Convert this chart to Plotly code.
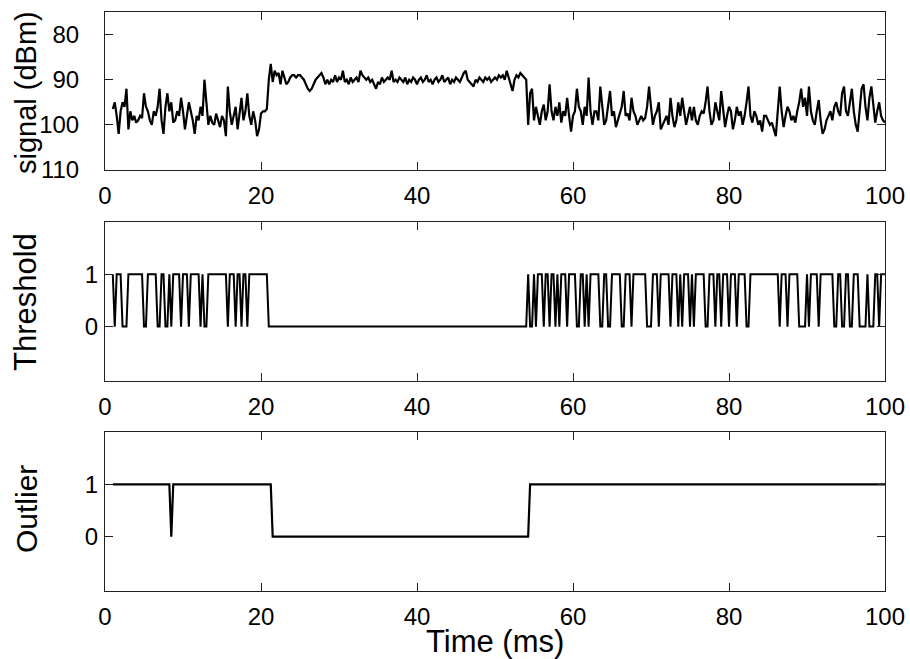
import plotly.graph_objects as go
from plotly.subplots import make_subplots

# ---------------- data ----------------
time_start = 1.0      # ms, first sample
time_step = 0.25      # ms between samples

signal_dbm = [
    # 1.00 - 10.75
    96.5, 95, 98, 102, 97, 95, 96, 92, 101, 97, 99, 98, 99.5, 99, 98, 98.5, 93, 96, 97, 99,
    100, 97, 98, 96, 92, 99, 102, 96, 93, 97, 95, 99.5, 99, 97, 98, 94, 97, 101, 98, 95,
    # 11.00 - 20.75
    97, 99, 102, 98, 99, 96, 98, 90, 95, 100, 98, 99.5, 100, 97.5, 99, 100.5, 98, 99, 102.5, 91.5,
    97, 100, 98, 96, 101, 97, 94, 99, 97, 93, 98, 100, 97, 99, 102.5, 101, 97.5, 97, 97, 96.5,
    # 21.00 - 30.75
    90, 86.5, 90.5, 88, 89, 88.5, 91, 88, 89.5, 91, 90.5, 89.5, 89, 89, 89.5, 89, 89, 89.5, 90, 91,
    92, 92.5, 92, 91, 90, 89.5, 89, 88.5, 89.5, 91, 90, 91, 90, 90.5, 89, 90.5, 89.5, 90, 88, 90.5,
    # 31.00 - 40.75
    90, 91, 89.5, 90.5, 90, 89.5, 90.5, 88, 89, 89.5, 90, 89.5, 90.5, 90, 91, 92, 90.5, 91, 89.5, 90.5,
    90, 89.5, 90, 88, 90.5, 90, 90.5, 89.5, 90, 90.5, 89.5, 91, 90, 90.5, 89.5, 90, 91, 90, 89.5, 90.5,
    # 41.00 - 50.75
    90, 89, 90.5, 90, 91, 90, 89.5, 90.5, 90, 89, 90.5, 90, 89.5, 91, 90, 90.5, 89.5, 90, 90.5, 89.5,
    88.5, 88, 90, 90.5, 91, 91.5, 90, 90.5, 89.5, 90, 90.5, 89.5, 90, 89.5, 90.5, 90, 89.5, 90, 89, 89.5,
    # 51.00 - 60.75
    89, 90, 88, 89.5, 91, 92.5, 90, 89, 89.5, 88.5, 89, 89.5, 90, 100, 93, 92, 99, 96, 98, 100,
    97, 95.5, 99, 97, 91, 97, 99, 96, 98, 95, 99.5, 97, 98, 94, 98, 101.5, 98, 97, 92, 96,
    # 61.00 - 70.75
    97, 100, 96, 98, 89.5, 97, 100, 97, 97, 99, 91.5, 96, 100, 99, 95, 92.5, 98, 97, 100.5, 99,
    97, 96, 92.5, 98, 97.5, 99, 94, 97, 98, 100, 99, 98, 99, 98.5, 96, 91.5, 96, 100, 98, 97,
    # 71.00 - 80.75
    95, 101, 100, 99, 98, 100, 94, 98, 100.5, 99, 95, 98, 94, 97, 100, 98, 96, 99, 96, 99,
    100, 98, 97, 97.5, 95, 91.5, 97, 100, 99, 95, 97, 99, 92.5, 97, 100.5, 98, 96, 97, 101, 99,
    # 81.00 - 90.75
    96, 98, 97, 100, 98, 95, 91.5, 98, 99.5, 97, 98, 100, 99, 101.5, 98, 98, 99, 100, 99.5, 101,
    102.5, 97, 91.5, 97, 100.5, 98, 96, 97, 99, 98, 99.5, 97, 95, 92, 96, 94, 98, 91.5, 97, 99,
    # 91.00 - 100.00
    100, 97, 94.5, 99, 102, 101, 99, 98, 97, 99, 96, 95, 97, 98, 93, 91.5, 97, 98, 95, 92,
    97, 100, 101.5, 96, 92, 91, 96, 99, 94, 91.5, 96, 99.5, 97, 95, 98, 99, 99.5,
]

threshold_flag = [
    # 1.00 - 10.75
    1, 0, 1, 1, 1, 0, 0, 0, 1, 1, 1, 1, 1, 1, 1, 1, 0, 0, 1, 1,
    1, 1, 1, 0, 0, 1, 1, 0, 0, 1, 0, 1, 1, 1, 1, 0, 1, 1, 1, 0,
    # 11.00 - 20.75
    1, 1, 1, 1, 1, 0, 1, 0, 0, 1, 1, 1, 1, 1, 1, 1, 1, 1, 1, 0,
    1, 1, 1, 0, 1, 1, 0, 1, 1, 0, 1, 1, 1, 1, 1, 1, 1, 1, 1, 1,
    # 21.00 - 30.75
    0, 0, 0, 0, 0, 0, 0, 0, 0, 0, 0, 0, 0, 0, 0, 0, 0, 0, 0, 0,
    0, 0, 0, 0, 0, 0, 0, 0, 0, 0, 0, 0, 0, 0, 0, 0, 0, 0, 0, 0,
    # 31.00 - 40.75
    0, 0, 0, 0, 0, 0, 0, 0, 0, 0, 0, 0, 0, 0, 0, 0, 0, 0, 0, 0,
    0, 0, 0, 0, 0, 0, 0, 0, 0, 0, 0, 0, 0, 0, 0, 0, 0, 0, 0, 0,
    # 41.00 - 50.75
    0, 0, 0, 0, 0, 0, 0, 0, 0, 0, 0, 0, 0, 0, 0, 0, 0, 0, 0, 0,
    0, 0, 0, 0, 0, 0, 0, 0, 0, 0, 0, 0, 0, 0, 0, 0, 0, 0, 0, 0,
    # 51.00 - 60.75
    0, 0, 0, 0, 0, 0, 0, 0, 0, 0, 0, 0, 0, 1, 0, 0, 1, 0, 1, 1,
    1, 0, 1, 1, 0, 1, 1, 0, 1, 0, 1, 1, 1, 0, 1, 1, 1, 1, 0, 0,
    # 61.00 - 70.75
    1, 1, 0, 1, 0, 1, 1, 1, 1, 1, 0, 0, 1, 1, 0, 0, 1, 1, 1, 1,
    1, 0, 0, 1, 1, 1, 0, 1, 1, 1, 1, 1, 1, 1, 0, 0, 0, 1, 1, 1,
    # 71.00 - 80.75
    0, 1, 1, 1, 1, 1, 0, 1, 1, 1, 0, 1, 0, 1, 1, 1, 0, 1, 0, 1,
    1, 1, 1, 1, 0, 0, 1, 1, 1, 0, 1, 1, 0, 1, 1, 1, 0, 1, 1, 1,
    # 81.00 - 90.75
    0, 1, 1, 1, 1, 0, 0, 1, 1, 1, 1, 1, 1, 1, 1, 1, 1, 1, 1, 1,
    1, 1, 0, 1, 1, 1, 0, 1, 1, 1, 1, 1, 0, 0, 0, 0, 1, 0, 1, 1,
    # 91.00 - 100.00
    1, 1, 0, 1, 1, 1, 1, 1, 1, 1, 0, 0, 1, 1, 0, 0, 1, 1, 0, 0,
    1, 1, 1, 0, 0, 0, 0, 1, 0, 0, 0, 1, 1, 0, 1, 1, 1,
]

# outlier flag: change points (ms) and values
outlier_time = [1.0, 8.25, 8.5, 8.75, 21.25, 21.5, 54.25, 54.5, 100.0]
outlier_flag = [1, 1, 0, 1, 1, 0, 0, 1, 1]

x_ticks = [0, 20, 40, 60, 80, 100]
signal_ticks = [80, 90, 100, 110]
flag_ticks = [0, 1]

time_ms = [time_start + time_step * i for i in range(len(signal_dbm))]

# ---------------- figure ----------------
FONT = "Liberation Sans, Arial, sans-serif"
W, H = 910, 659
PL, PR, PT, PB = 105, 885, 12, 591      # plot area bounds in pixels
ML, MR, MT, MB = PL, W - PR, PT, H - PB
plot_h = PB - PT

def dom(top_px, bottom_px):
    return [(PB - bottom_px) / plot_h, (PB - top_px) / plot_h]

fig = make_subplots(rows=3, cols=1, shared_xaxes=False)

fig.add_trace(go.Scatter(x=time_ms, y=signal_dbm, mode="lines",
                         line=dict(color="black", width=2.2)), 1, 1)
fig.add_trace(go.Scatter(x=time_ms, y=threshold_flag, mode="lines",
                         line=dict(color="black", width=2)), 2, 1)
fig.add_trace(go.Scatter(x=outlier_time, y=outlier_flag, mode="lines",
                         line=dict(color="black", width=2.2)), 3, 1)

axis_common = dict(
    showline=True, linecolor="#222", linewidth=1, mirror="ticks",
    ticks="inside", ticklen=8, tickcolor="#222", tickwidth=1,
    showgrid=False, zeroline=False, ticklabeloverflow="allow", automargin=False,
    tickfont=dict(family=FONT, size=24, color="black"),
)

for r in (1, 2, 3):
    fig.update_xaxes(range=[0, 100], tickvals=x_ticks, ticklabelstandoff=4,
                     **axis_common, row=r, col=1)

fig.update_yaxes(range=[110, 75], tickvals=signal_ticks, ticklabelstandoff=20,
                 **axis_common, row=1, col=1)
fig.update_yaxes(range=[-1.04, 2.0], tickvals=flag_ticks, ticklabelstandoff=1,
                 **axis_common, row=2, col=1)
fig.update_yaxes(range=[-1.04, 2.0], tickvals=flag_ticks, ticklabelstandoff=1,
                 **axis_common, row=3, col=1)

fig.update_layout(
    yaxis=dict(domain=dom(12, 170)),
    yaxis2=dict(domain=dom(222, 381)),
    yaxis3=dict(domain=dom(432, 591)),
    width=W, height=H, autosize=False,
    margin=dict(l=ML, r=MR, t=MT, b=MB, pad=0, autoexpand=False),
    paper_bgcolor="white", plot_bgcolor="white",
    showlegend=False,
    font=dict(family=FONT, color="black"),
)

def px_x(px):
    return (px - PL) / (PR - PL)

def px_y(py):
    return (PB - py) / plot_h

for text, cy, size in (("signal (dBm)", 93, 29), ("Threshold", 302, 31), ("Outlier", 509, 30)):
    fig.add_annotation(text=text, x=px_x(26), y=px_y(cy), xref="paper", yref="paper",
                       xanchor="center", yanchor="middle", textangle=-90,
                       showarrow=False, font=dict(family=FONT, size=size, color="black"))
fig.add_annotation(text="Time (ms)", x=px_x(495), y=px_y(641), xref="paper", yref="paper",
                   xanchor="center", yanchor="middle", showarrow=False,
                   font=dict(family=FONT, size=31, color="black"))

fig.write_html(
    "out.html",
    config={"displayModeBar": False, "responsive": False},
    post_script="document.body.style.margin='0';document.body.style.overflow='hidden';",
)
